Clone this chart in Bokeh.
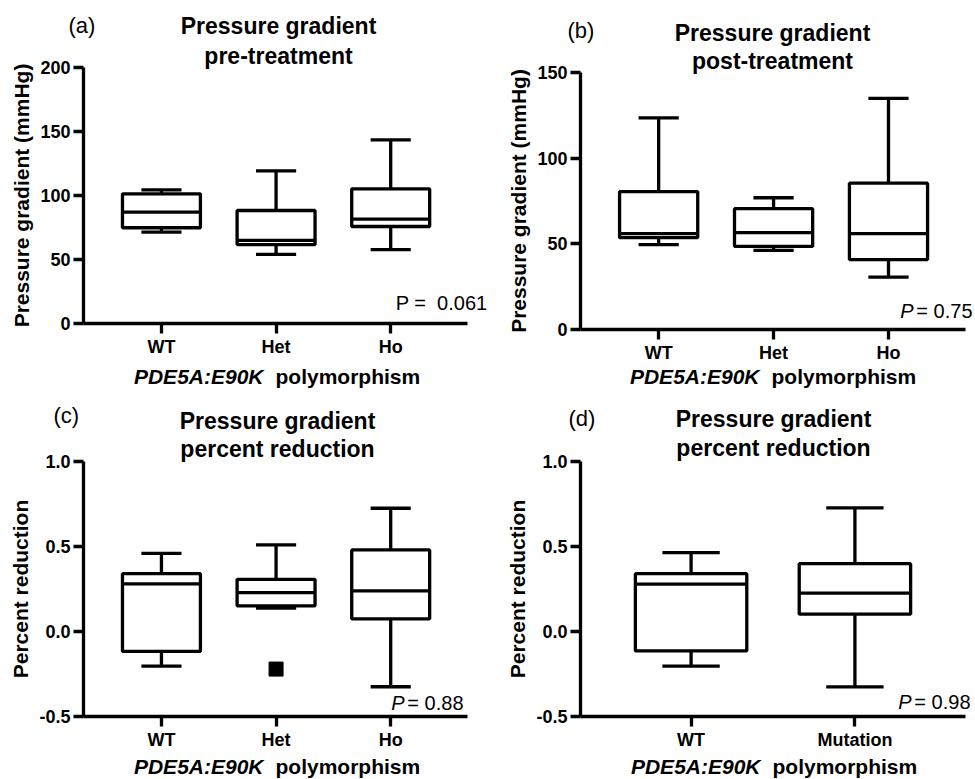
from bokeh.plotting import figure
from bokeh.layouts import row, column
from bokeh.models import Range1d, FixedTicker, Label, PrintfTickFormatter
from bokeh.embed import file_html
from bokeh.resources import INLINE

FONT = "Liberation Sans"

# ---------------- data ----------------
cats3 = ["WT", "Het", "Ho"]
cats2 = ["WT", "Mutation"]

# (a) pre-treatment pressure gradient (mmHg)
pre_min = [71.4, 54.0, 57.7]
pre_q1 = [74.8, 61.6, 75.8]
pre_med = [87.0, 64.9, 81.6]
pre_q3 = [101.3, 88.3, 105.2]
pre_max = [104.4, 119.3, 143.4]

# (b) post-treatment pressure gradient (mmHg)
post_min = [49.5, 46.2, 30.6]
post_q1 = [53.6, 48.5, 40.8]
post_med = [56.0, 56.5, 55.9]
post_q3 = [80.5, 70.5, 85.4]
post_max = [123.5, 76.9, 134.9]

# (c) percent reduction by genotype
red_min = [-0.204, 0.137, -0.325]
red_q1 = [-0.117, 0.151, 0.074]
red_med = [0.280, 0.229, 0.239]
red_q3 = [0.340, 0.307, 0.480]
red_max = [0.460, 0.510, 0.725]
red_outlier_cat = ["Het"]
red_outlier_val = [-0.221]

# (d) percent reduction WT vs mutation
mut_min = [-0.204, -0.326]
mut_q1 = [-0.114, 0.102]
mut_med = [0.279, 0.226]
mut_q3 = [0.340, 0.399]
mut_max = [0.464, 0.727]

yticks_a = [0, 50, 100, 150, 200]
yticks_b = [0, 50, 100, 150]
yticks_cd = [-0.5, 0.0, 0.5, 1.0]

p_values = ["0.061", "0.75", "0.88", "0.98"]


def make_panel(cats, mins, q1s, meds, q3s, maxs, yr, yticks, yfmt, ylabel,
               letter, title2, pval, p_italic, geom, xb,
               out_cats=None, out_vals=None):
    # geom: figure size and axis box in figure pixels, plus text anchors
    W, H, L, R, T, B = geom["box"]
    xlo, xhi = xb
    ylo, yhi = yr
    sx = (xhi - xlo) / (R - L)
    sy = (yhi - ylo) / (B - T)

    def px2x(px):
        return xlo + (px - L) * sx

    def px2y(py):
        return ylo + (B - py) * sy

    p = figure(width=W, height=H, min_border=0,
               x_range=Range1d(px2x(0), px2x(W)), y_range=Range1d(px2y(H), px2y(0)),
               output_backend="svg", toolbar_location=None, tools="")
    p.outline_line_color = None
    p.grid.visible = False
    p.background_fill_color = "white"
    p.border_fill_color = "white"

    xs = list(range(len(cats)))
    bw = 0.68
    cw = 0.35
    lw = 3.3

    # whiskers
    p.segment(x0=xs, y0=mins, x1=xs, y1=q1s, line_color="black", line_width=lw)
    p.segment(x0=xs, y0=q3s, x1=xs, y1=maxs, line_color="black", line_width=lw)
    p.segment(x0=[x - cw / 2 for x in xs], y0=maxs, x1=[x + cw / 2 for x in xs], y1=maxs,
              line_color="black", line_width=lw)
    p.segment(x0=[x - cw / 2 for x in xs], y0=mins, x1=[x + cw / 2 for x in xs], y1=mins,
              line_color="black", line_width=lw)
    # boxes
    p.quad(left=[x - bw / 2 for x in xs], right=[x + bw / 2 for x in xs],
           bottom=q1s, top=q3s, fill_color="white", line_color="black", line_width=lw)
    # medians
    p.segment(x0=[x - bw / 2 for x in xs], y0=meds, x1=[x + bw / 2 for x in xs], y1=meds,
              line_color="black", line_width=lw)
    if out_cats:
        ox = [cats.index(c) for c in out_cats]
        p.scatter(x=ox, y=out_vals, marker="square", size=14,
                  fill_color="black", line_color="black")

    # axes (fixed at the data box, bounded to it)
    for ax in (p.xaxis, p.yaxis):
        ax.axis_line_width = 3.3
        ax.axis_line_color = "black"
        ax.major_tick_line_width = 3.3
        ax.major_tick_line_color = "black"
        ax.major_tick_out = 10
        ax.major_tick_in = 0
        ax.minor_tick_line_color = None
        ax.major_label_text_font = FONT
        ax.major_label_text_font_size = "18px"
        ax.major_label_text_font_style = "bold"
        ax.major_label_text_color = "black"
        ax.major_label_standoff = 3
    p.xaxis.fixed_location = ylo
    p.xaxis.bounds = (xlo, xhi)
    p.xaxis.ticker = FixedTicker(ticks=xs)
    p.xaxis.major_label_overrides = {i: c for i, c in enumerate(cats)}
    p.yaxis.fixed_location = xlo
    p.yaxis.bounds = (ylo, yhi)
    p.yaxis.ticker = FixedTicker(ticks=yticks)
    p.yaxis.formatter = PrintfTickFormatter(format=yfmt)
    p.yaxis.axis_label = ylabel
    p.yaxis.axis_label_text_font = FONT
    p.yaxis.axis_label_text_font_size = "21px"
    p.yaxis.axis_label_text_font_style = "bold"
    p.yaxis.axis_label_text_color = "black"
    p.yaxis.axis_label_standoff = 4

    lx, ly = geom["letter"]
    tx, t1y, t2y = geom["title"]
    prx, pry = geom["p"]
    xlx, xly = geom["xlabel"]

    def lab(px, py, text, size, style="normal", align="left", xo=0):
        p.add_layout(Label(x=px2x(px), y=px2y(py), x_offset=xo, text=text,
                           text_font=FONT, text_font_size=size, text_font_style=style,
                           text_align=align, text_baseline="middle", text_color="black"))

    lab(lx, ly, letter, "22px")
    lab(tx, t1y, "Pressure gradient", "23px", "bold", "center")
    lab(tx, t2y, title2, "23px", "bold", "center")
    lab(xlx, xly, "PDE5A:E90K", "21px", "bold italic", "right", -13)
    lab(xlx, xly, "polymorphism", "21px", "bold", "left", -1)
    if p_italic:
        lab(prx, pry, "= " + pval, "20px", "normal", "right")
        lab(prx, pry, "P", "20px", "italic", "right", -59)
    else:
        lab(prx, pry, "P =\u00a0\u00a0" + pval, "20px", "normal", "right")
    return p


geom_a = {"box": (490, 390, 83, 467, 67, 323), "letter": (68, 25), "title": (278, 25, 55),
          "p": (487, 302), "xlabel": (276, 376)}
geom_b = {"box": (485, 390, 90, 475, 72, 329), "letter": (77, 30), "title": (282, 32, 60),
          "p": (482, 310), "xlabel": (282, 376)}
geom_c = {"box": (490, 389, 83, 467, 71, 326), "letter": (53, 25), "title": (277, 30, 58),
          "p": (463, 312), "xlabel": (276, 376)}
geom_d = {"box": (485, 389, 90, 475, 71, 326), "letter": (78, 28), "title": (283, 28, 57),
          "p": (480, 311), "xlabel": (283, 376)}

pa = make_panel(cats3, pre_min, pre_q1, pre_med, pre_q3, pre_max, (0, 200), yticks_a, "%d",
                "Pressure gradient (mmHg)", "(a)", "pre-treatment", p_values[0], False,
                geom_a, (-0.68, 2.67))
pb = make_panel(cats3, post_min, post_q1, post_med, post_q3, post_max, (0, 150), yticks_b, "%d",
                "Pressure gradient (mmHg)", "(b)", "post-treatment", p_values[1], True,
                geom_b, (-0.68, 2.67))
pc = make_panel(cats3, red_min, red_q1, red_med, red_q3, red_max, (-0.5, 1.0), yticks_cd, "%.1f",
                "Percent reduction", "(c)", "percent reduction", p_values[2], True,
                geom_c, (-0.68, 2.67), out_cats=red_outlier_cat, out_vals=red_outlier_val)
pd_ = make_panel(cats2, mut_min, mut_q1, mut_med, mut_q3, mut_max, (-0.5, 1.0), yticks_cd, "%.1f",
                 "Percent reduction", "(d)", "percent reduction", p_values[3], True,
                 geom_d, (-0.675, 1.675))

layout = column(row(pa, pb), row(pc, pd_))

open("out.html", "w").write(file_html(layout, INLINE))
